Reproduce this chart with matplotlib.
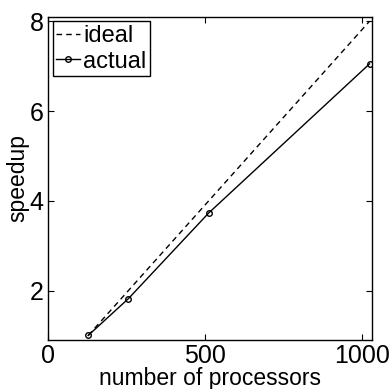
import matplotlib
matplotlib.use("Agg")
import matplotlib.pyplot as plt

plt.rcParams["font.family"] = ["Liberation Sans", "DejaVu Sans"]

# processors and measured speedup (relative to 128 processors)
processors = [128, 256, 512, 1024]
ideal = [1, 2, 4, 8]
actual = [1.0, 1.82, 3.73, 7.05]

fig = plt.figure(figsize=(3.9, 3.89), dpi=100)
ax = fig.add_axes([0.123, 0.126, 0.831, 0.831])

ax.plot(processors, ideal, color="k", linestyle=(0, (4, 3)), linewidth=1.0, label="ideal")
ax.plot(processors, actual, "k-", linewidth=1.0, marker="o", markersize=4,
        markerfacecolor="none", markeredgewidth=1.0, label="actual")

ax.set_xlim(0, 1032)
ax.set_ylim(0.9, 8.1)
ax.set_xticks([0, 500, 1000])
ax.set_yticks([2, 4, 6, 8])
ax.tick_params(direction="in", top=True, right=True, labelsize=18, length=4, pad=3)
for s in ax.spines.values():
    s.set_linewidth(1.0)

ax.set_xlabel("number of processors", fontsize=16.5, labelpad=-1)
ax.set_ylabel("speedup", fontsize=16.5, labelpad=0)

leg = ax.legend(loc="upper left", fontsize=17, fancybox=False, framealpha=1,
                edgecolor="black", borderaxespad=0.2, handlelength=1.0,
                handletextpad=0.15, borderpad=0.15, labelspacing=0.15)
leg.get_frame().set_linewidth(1.0)

fig.savefig("out.png", dpi=100)
